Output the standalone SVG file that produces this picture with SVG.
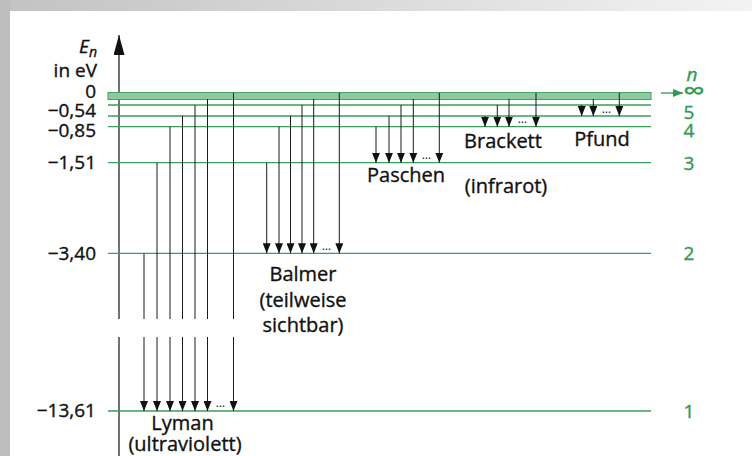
<svg xmlns="http://www.w3.org/2000/svg" width="752" height="456" viewBox="0 0 752 456">
<defs>
<linearGradient id="topg" x1="0" y1="0" x2="1" y2="0">
<stop offset="0" stop-color="#c2c2c2"/>
<stop offset="1" stop-color="#f3f3f3"/>
</linearGradient>
<marker id="ah" viewBox="0 0 10 8" refX="10" refY="4" markerWidth="10" markerHeight="8" markerUnits="userSpaceOnUse" orient="auto">
<path d="M0,0 L10,4 L0,8 z" fill="#111"/>
</marker>
<marker id="axh" viewBox="0 0 20 11" refX="20" refY="5.5" markerWidth="20" markerHeight="11" markerUnits="userSpaceOnUse" orient="auto">
<path d="M0,0 L20,5.5 L0,11 z" fill="#111"/>
</marker>
<marker id="gh" viewBox="0 0 10 8" refX="10" refY="4" markerWidth="10" markerHeight="8" markerUnits="userSpaceOnUse" orient="auto">
<path d="M0,0 L10,4 L0,8 z" fill="#2f9a55"/>
</marker>
</defs>
<style>
.t{font-family:"Open Sans","Liberation Sans",sans-serif;fill:#111;stroke:#111;stroke-width:0.35;font-size:20px;text-anchor:middle}
.v{font-family:"Open Sans","Liberation Sans",sans-serif;fill:#111;stroke:#111;stroke-width:0.35;font-size:19px;text-anchor:end}
.g{font-family:"Open Sans","Liberation Sans",sans-serif;fill:#2f9a55;stroke:#2f9a55;stroke-width:0.35;font-size:19px;text-anchor:middle}
.lv{stroke:#3a9d5d;stroke-width:1.3;fill:none}
.tr{stroke:#1a1a1a;stroke-width:1;fill:none}
.tra{stroke:#1a1a1a;stroke-width:1;fill:none;marker-end:url(#ah)}
.dots{font-family:"Open Sans","Liberation Sans",sans-serif;fill:#111;font-size:12px;text-anchor:middle}
</style>
<rect x="0" y="0" width="752" height="456" fill="#ffffff"/>
<rect x="0" y="0" width="752" height="11" fill="url(#topg)"/>
<rect x="0" y="0" width="10" height="456" fill="#bdbdbd"/>

<g id="axis">
<line x1="119" y1="319" x2="119" y2="35" stroke="#111" stroke-width="1.2" marker-end="url(#axh)"/>
<line x1="119" y1="337" x2="119" y2="456" stroke="#111" stroke-width="1.2"/>
<text class="v" x="97" y="53" font-style="italic">E<tspan font-size="14" dy="4">n</tspan></text>
<text class="v" x="97" y="77">in eV</text>
</g>

<g id="level-inf">
<rect x="108" y="92.5" width="543" height="7" fill="#8ccaa0" stroke="#44a466" stroke-width="1"/>
<text class="v" x="96" y="98">0</text>
<text class="g" x="692" y="81" font-style="italic" font-size="20">n</text>
<text class="g" transform="translate(694,99) scale(1.6,1.25)" x="0" y="0" font-size="22">∞</text>
<line x1="661" y1="93" x2="683" y2="93" stroke="#2f9a55" stroke-width="1.3" marker-end="url(#gh)"/>
</g>
<g id="level-6"><line class="lv" x1="108" y1="105" x2="651" y2="105"/></g>
<g id="level-5">
<line class="lv" x1="108" y1="116" x2="651" y2="116"/>
<text class="v" x="96" y="117">−0,54</text>
<text class="g" x="689" y="118.5">5</text>
</g>
<g id="level-4">
<line class="lv" x1="108" y1="126.7" x2="651" y2="126.7"/>
<text class="v" x="96" y="137">−0,85</text>
<text class="g" x="689" y="137">4</text>
</g>
<g id="level-3">
<line class="lv" x1="108" y1="162.7" x2="651" y2="162.7"/>
<text class="v" x="96" y="169">−1,51</text>
<text class="g" x="689" y="170">3</text>
</g>
<g id="level-2">
<line class="lv" x1="108" y1="253.3" x2="651" y2="253.3"/>
<text class="v" x="96" y="259.5">−3,40</text>
<text class="g" x="689" y="260">2</text>
</g>
<g id="level-1">
<line class="lv" x1="108" y1="411" x2="651" y2="411"/>
<text class="v" x="96" y="417">−13,61</text>
<text class="g" x="689" y="417.5">1</text>
</g>

<g id="connectors">
<line class="tr" x1="144" y1="253.3" x2="144" y2="319"/><line class="tra" x1="144" y1="337" x2="144" y2="411"/>
<line class="tr" x1="157" y1="162.7" x2="157" y2="319"/><line class="tra" x1="157" y1="337" x2="157" y2="411"/>
<line class="tr" x1="170" y1="126.7" x2="170" y2="319"/><line class="tra" x1="170" y1="337" x2="170" y2="411"/>
<line class="tr" x1="182.5" y1="116" x2="182.5" y2="319"/><line class="tra" x1="182.5" y1="337" x2="182.5" y2="411"/>
<line class="tr" x1="195" y1="105" x2="195" y2="319"/><line class="tra" x1="195" y1="337" x2="195" y2="411"/>
<line class="tr" x1="207.5" y1="99" x2="207.5" y2="319"/><line class="tra" x1="207.5" y1="337" x2="207.5" y2="411"/>
<line class="tr" x1="233.5" y1="93" x2="233.5" y2="319"/><line class="tra" x1="233.5" y1="337" x2="233.5" y2="411"/>
<line class="tra" x1="266.7" y1="162.7" x2="266.7" y2="253.3"/>
<line class="tra" x1="279" y1="126.7" x2="279" y2="253.3"/>
<line class="tra" x1="290.5" y1="116" x2="290.5" y2="253.3"/>
<line class="tra" x1="302" y1="105" x2="302" y2="253.3"/>
<line class="tra" x1="313.7" y1="99" x2="313.7" y2="253.3"/>
<line class="tra" x1="339.3" y1="93" x2="339.3" y2="253.3"/>
<line class="tra" x1="376" y1="126.7" x2="376" y2="162.7"/>
<line class="tra" x1="389" y1="116" x2="389" y2="162.7"/>
<line class="tra" x1="401" y1="105" x2="401" y2="162.7"/>
<line class="tra" x1="413.3" y1="99" x2="413.3" y2="162.7"/>
<line class="tra" x1="439.3" y1="93" x2="439.3" y2="162.7"/>
<line class="tra" x1="485" y1="116" x2="485" y2="126.7"/>
<line class="tra" x1="497.3" y1="105" x2="497.3" y2="126.7"/>
<line class="tra" x1="509" y1="99" x2="509" y2="126.7"/>
<line class="tra" x1="536" y1="93" x2="536" y2="126.7"/>
<line class="tra" x1="581.7" y1="105" x2="581.7" y2="116"/>
<line class="tra" x1="593.3" y1="99" x2="593.3" y2="116"/>
<line class="tra" x1="619.3" y1="93" x2="619.3" y2="116"/>
</g>

<g id="dots">
<text class="dots" x="220.5" y="407">…</text>
<text class="dots" x="326.5" y="249.5">…</text>
<text class="dots" x="426.3" y="159">…</text>
<text class="dots" x="522.5" y="123">…</text>
<text class="dots" x="606.3" y="112.5">…</text>
</g>

<g id="series-lyman">
<text class="t" x="182.5" y="430">Lyman</text>
<text class="t" x="185" y="451">(ultraviolett)</text>
</g>
<g id="series-balmer">
<text class="t" x="303" y="281">Balmer</text>
<text class="t" x="303" y="307">(teilweise</text>
<text class="t" x="303" y="332">sichtbar)</text>
</g>
<g id="series-paschen">
<text class="t" x="406" y="182">Paschen</text>
<text class="t" x="506" y="193">(infrarot)</text>
</g>
<g id="series-brackett"><text class="t" x="503" y="148">Brackett</text></g>
<g id="series-pfund"><text class="t" x="602" y="146">Pfund</text></g>
</svg>
